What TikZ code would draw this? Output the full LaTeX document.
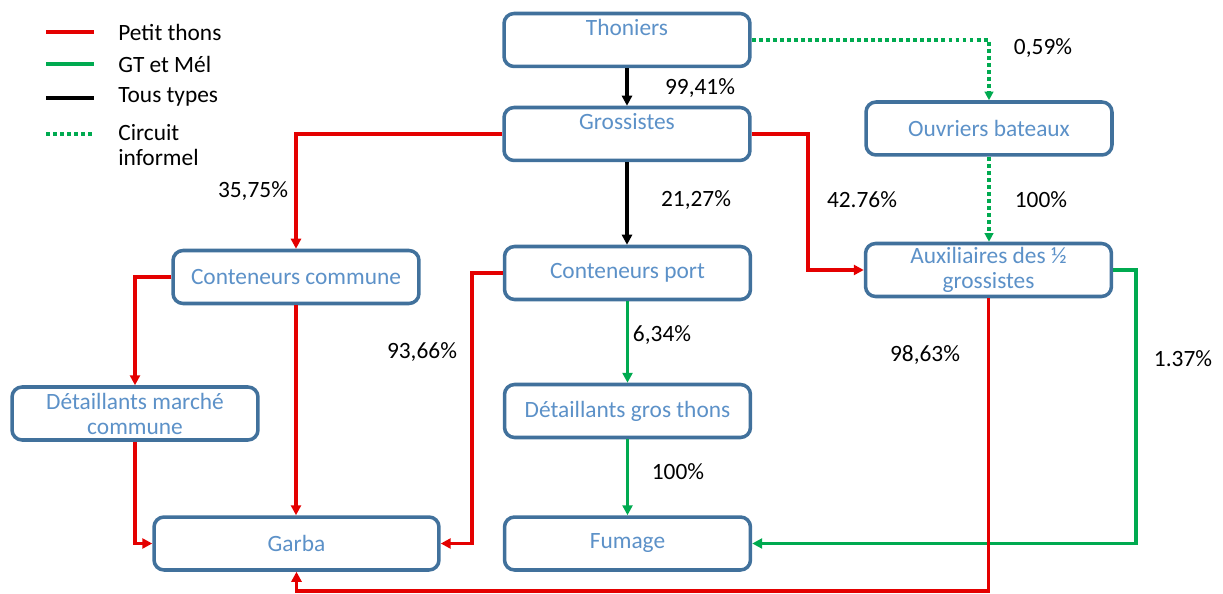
\documentclass[tikz,border=0pt]{standalone}
\usepackage{fontspec}
\setmainfont{Carlito}
\usetikzlibrary{arrows.meta,calc}
\definecolor{bordc}{RGB}{65,113,156}
\definecolor{txtc}{RGB}{92,145,200}
\definecolor{redc}{RGB}{228,0,0}
\definecolor{greenc}{RGB}{0,170,80}
\tikzset{
  box/.style={draw=bordc, line width=2pt, rounded corners=0.2cm, fill=white,
    minimum width=4.92cm, minimum height=1.06cm, align=center, inner sep=1pt,
    text=txtc, font=\fontsize{13.3}{14.2}\selectfont},
  lbl/.style={font=\fontsize{13.3}{14.2}\selectfont, text=black, inner sep=0pt},
  tip/.style={-{Triangle[length=0.2cm,width=0.2cm]}},
  redl/.style={draw=redc, line width=2pt, tip},
  greenl/.style={draw=greenc, line width=2pt, tip},
  blackl/.style={draw=black, line width=2pt, tip},
  dotl/.style={draw=greenc, line width=2pt, dash pattern=on 2.2pt off 1.8pt, -{Triangle[length=0.17cm,width=0.17cm]}},
}
\begin{document}
\begin{tikzpicture}[x=0.02cm,y=-0.02cm]
\useasboundingbox (0,0) rectangle (1223,594);
% nodes
\node[box] (thon) at (627,40) {Thoniers\\\mbox{}};
\node[box] (gros) at (627,134) {Grossistes\\\mbox{}};
\node[box] (ouv) at (989,128.5) {Ouvriers bateaux};
\node[box] (aux) at (988.5,270) {Auxiliaires des ½\\grossistes};
\node[box] (ccom) at (296,277) {Conteneurs commune};
\node[box] (cport) at (627.5,273) {Conteneurs port};
\node[box] (dmc) at (135,413.5) {Détaillants marché\\commune};
\node[box] (dgt) at (627.5,411) {Détaillants gros thons};
\node[box, minimum width=5.7cm] (garba) at (296.5,543.5) {Garba};
\node[box] (fum) at (627.5,543.5) {Fumage};
% helper coordinates
\coordinate (k1) at (808,0);
\coordinate (k2) at (472,0);
\coordinate (k3) at (0,591);
\coordinate (k4) at (1136,0);
% connectors
\draw[blackl] (thon.south) -- (thon.south |- gros.north);
\draw[dotl] (thon.east) -| (ouv.north);
\draw[dotl] (ouv.south) -- (ouv.south |- aux.north);
\draw[redl] (gros.west) -| (ccom.north);
\draw[blackl] (gros.south) -- (gros.south |- cport.north);
\draw[redl] (gros.east) -- (k1 |- gros.east) -- (k1 |- aux.west) -- (aux.west);
\draw[redl] (ccom.west) -| (dmc.north);
\draw[redl] (ccom.south) -- (ccom.south |- garba.north);
\draw[redl] (dmc.south) |- (garba.west);
\draw[redl] (cport.west) -- (k2 |- cport.west) -- (k2 |- garba.east) -- (garba.east);
\draw[greenl] (cport.south) -- (dgt.north);
\draw[greenl] (dgt.south) -- (fum.north);
\draw[greenl] (aux.east) -- (k4 |- aux.east) -- (k4 |- fum.east) -- (fum.east);
\draw[redl] (aux.south) -- (aux.south |- k3) -| (garba.south);
% labels
\node[lbl] (l1) at (700,88) {99,41\%};
\node[lbl] (l2) at (1043,48) {0,59\%};
\node[lbl] (l3) at (253,191) {35,75\%};
\node[lbl] (l4) at (696,200) {21,27\%};
\node[lbl] (l5) at (862,200) {42.76\%};
\node[lbl] (l6) at (1041,200) {100\%};
\node[lbl] (l7) at (422,352) {93,66\%};
\node[lbl] (l8) at (662,335) {6,34\%};
\node[lbl] (l9) at (925,355) {98,63\%};
\node[lbl] (l10) at (1183,359) {1.37\%};
\node[lbl] (l11) at (678,472) {100\%};
% legend
\draw[draw=redc, line width=2pt] (46,32) -- (94,32);
\draw[draw=greenc, line width=2pt] (46,64) -- (94,64);
\draw[draw=black, line width=2pt] (46,98) -- (94,98);
\draw[draw=greenc, line width=2pt, dash pattern=on 2.2pt off 1.8pt] (46,134) -- (94,134);
\node[lbl, anchor=west] (g1) at (118,32) {Petit thons};
\node[lbl, anchor=west] (g2) at (118,64) {GT et Mél};
\node[lbl, anchor=west] (g3) at (118,97) {Tous types};
\node[lbl, anchor=west, align=left, font=\fontsize{13.3}{13.8}\selectfont] (g4) at (118,145) {Circuit\\informel};
\end{tikzpicture}
\end{document}
